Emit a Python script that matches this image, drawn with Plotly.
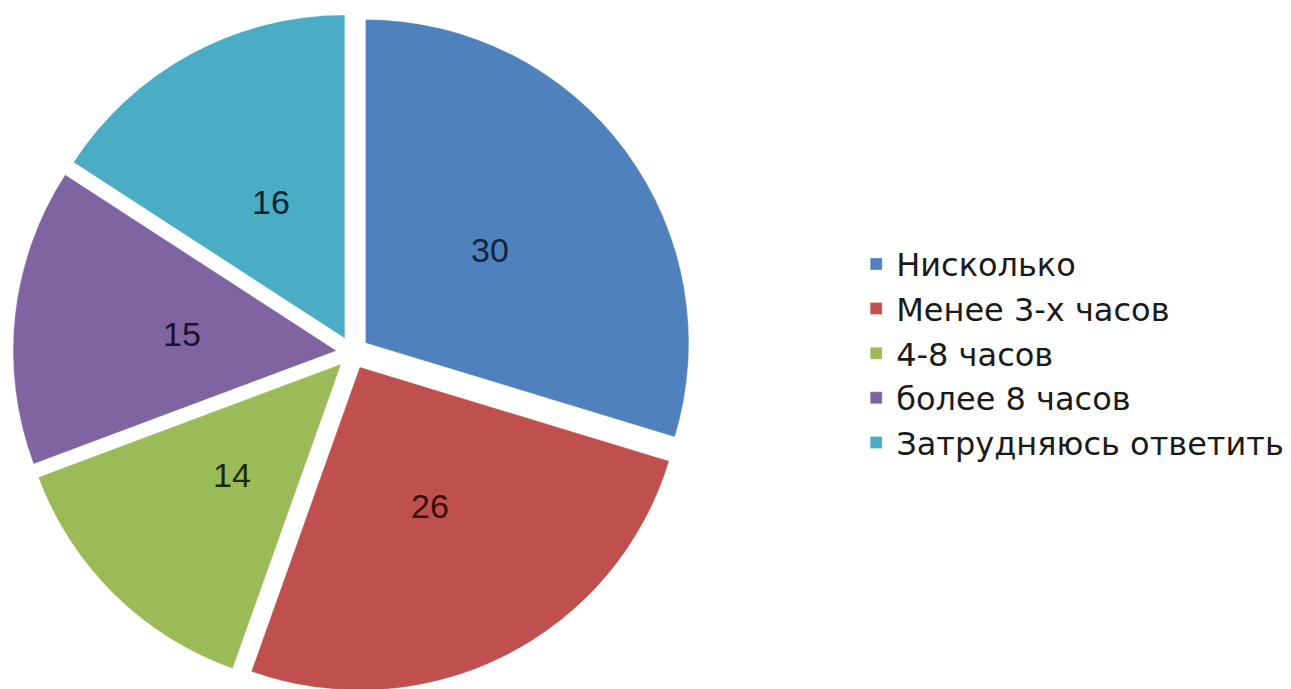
import math
import plotly.graph_objects as go

categories = ["Нисколько", "Менее 3-х часов", "4-8 часов", "более 8 часов", "Затрудняюсь ответить"]
values = [30, 26, 14, 15, 16]
colors = ["#4F81BD", "#C0504D", "#9BBB59", "#8064A2", "#4BACC6"]
label_colors = ["#15233f", "#3a0c0c", "#1c2a0a", "#1e1030", "#0c2630"]

W, H = 1291, 689
M_TOP, M_BOT = 0, 0
PULL = 0.05
DOM_X = [5 / W, 684 / W]

fig = go.Figure(
    go.Pie(
        labels=categories,
        values=values,
        sort=False,
        direction="clockwise",
        rotation=0,
        pull=PULL,
        marker=dict(colors=colors, line=dict(color="rgba(255,255,255,0.6)", width=0.5)),
        textinfo="none",
        domain=dict(x=DOM_X, y=[0, 1]),
        hoverinfo="label+value",
    )
)

# value labels placed at the middle angle of each slice (derived from the data)
plot_h = H - M_TOP - M_BOT
cx_px = (DOM_X[0] + DOM_X[1]) / 2 * W
cy_px = M_TOP + plot_h / 2
r_px = min((DOM_X[1] - DOM_X[0]) * W, plot_h) / 2 / (1 + PULL)
label_r = 0.53 * r_px
total = sum(values)
cum = 0
for v, c in zip(values, label_colors):
    theta = 2 * math.pi * (cum + v / 2) / total
    cum += v
    px = cx_px + label_r * math.sin(theta)
    py = cy_px - label_r * math.cos(theta)
    fig.add_annotation(
        x=px / W,
        y=(H - M_BOT - py) / plot_h,
        xref="paper",
        yref="paper",
        text=str(v),
        showarrow=False,
        font=dict(family="Liberation Sans, Arial, sans-serif", size=34, color=c),
        xanchor="center",
        yanchor="middle",
    )

fig.update_layout(
    width=W,
    height=H,
    margin=dict(l=0, r=0, t=M_TOP, b=M_BOT),
    paper_bgcolor="white",
    plot_bgcolor="white",
    showlegend=True,
    legend=dict(
        x=0.657,
        y=0.499,
        xanchor="left",
        yanchor="middle",
        font=dict(family="DejaVu Sans, sans-serif", size=32, color="#1a1a1a"),
        itemwidth=30,
        bgcolor="rgba(0,0,0,0)",
    ),
)

fig.write_html("out.html")
